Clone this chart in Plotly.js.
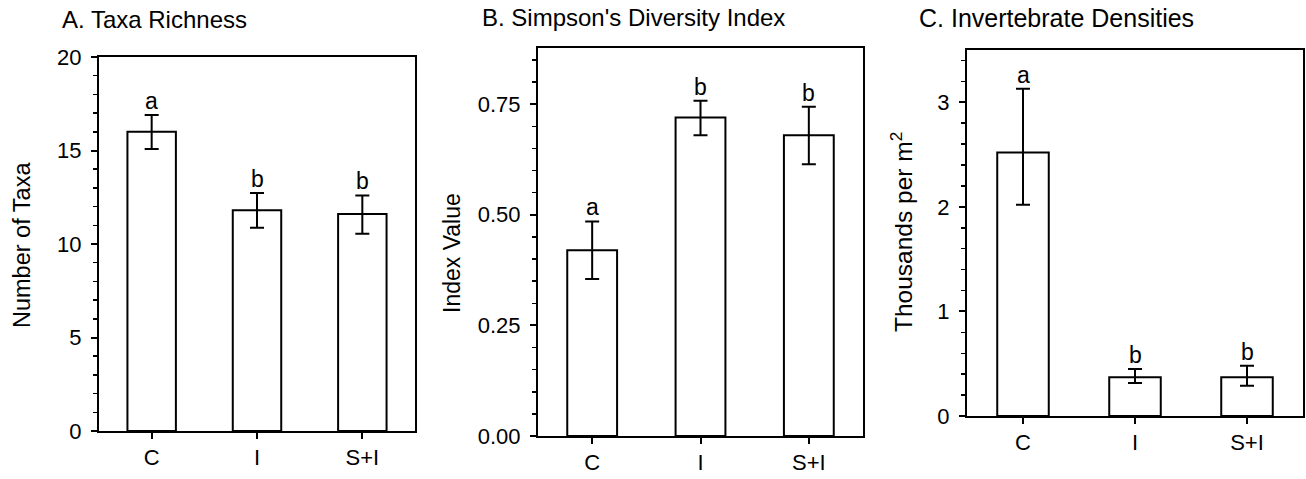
<!DOCTYPE html>
<html>
<head>
<meta charset="utf-8">
<script src="https://cdn.plot.ly/plotly-3.0.1.min.js"></script>
<style>html,body{margin:0;padding:0;background:#fff;}#chart{width:1306px;height:479px;}</style>
</head>
<body>
<div id="chart"></div>
<script>
// ---- data ----
const categories = ['C', 'I', 'S+I'];

const taxaRichness = [16.0, 11.8, 11.6];
const taxaErrPlus = [0.9, 0.93, 1.0];
const taxaErrMinus = [0.92, 0.93, 1.05];
const taxaLetters = ['a', 'b', 'b'];

const simpsonIndex = [0.42, 0.72, 0.68];
const simpsonErrPlus = [0.065, 0.038, 0.064];
const simpsonErrMinus = [0.065, 0.04, 0.066];
const simpsonLetters = ['a', 'b', 'b'];

const densities = [2.52, 0.37, 0.37];
const densErrPlus = [0.61, 0.08, 0.11];
const densErrMinus = [0.50, 0.055, 0.08];
const densLetters = ['a', 'b', 'b'];

const panelTitles = ['A. Taxa Richness', "B. Simpson's Diversity Index", 'C. Invertebrate Densities'];
const yTitles = ['Number of Taxa', 'Index Value', 'Thousands per m<sup>2</sup>'];

// ---- build ----
const FONT = 'Liberation Sans, Arial, Helvetica, sans-serif';
const W = 1306, H = 479;

function barTrace(vals, plus, minus, xa, ya) {
  return {
    type: 'bar', x: categories, y: vals, xaxis: xa, yaxis: ya,
    width: 0.46,
    marker: {color: '#ffffff', line: {color: '#000', width: 2}},
    error_y: {type: 'data', array: plus, arrayminus: minus, symmetric: false,
              color: '#000', thickness: 2, width: 7},
    hoverinfo: 'skip', showlegend: false
  };
}

const data = [
  barTrace(taxaRichness, taxaErrPlus, taxaErrMinus, 'x', 'y'),
  barTrace(simpsonIndex, simpsonErrPlus, simpsonErrMinus, 'x2', 'y2'),
  barTrace(densities, densErrPlus, densErrMinus, 'x3', 'y3')
];

function px2x(p) { return p / W; }
function px2y(p) { return (H - p) / H; }

function xAxis(domain, anchor) {
  return {
    domain: domain, anchor: anchor, type: 'category', range: [-0.5, 2.5],
    showline: true, mirror: true, linewidth: 2, linecolor: '#000',
    ticks: 'outside', ticklen: 6, tickwidth: 2, tickcolor: '#000',
    tickfont: {family: FONT, size: 22, color: '#000'},
    showgrid: false, zeroline: false, fixedrange: true
  };
}
function yAxis(domain, anchor, range, dtick, minorDtick, fmt) {
  return {
    domain: domain, anchor: anchor, range: range, dtick: dtick, tick0: 0,
    tickformat: fmt,
    showline: true, mirror: true, linewidth: 2, linecolor: '#000',
    ticks: 'outside', ticklen: 6, tickwidth: 2, tickcolor: '#000',
    minor: {dtick: minorDtick, tick0: 0, ticks: 'outside', ticklen: 4, tickwidth: 1.5, tickcolor: '#000', showgrid: false},
    tickfont: {family: FONT, size: 22, color: '#000'},
    ticklabelstandoff: 5,
    showgrid: false, zeroline: false, fixedrange: true
  };
}
function innerAxis(over, anchor, domain, range, dtick) {
  return {
    overlaying: over, anchor: anchor, domain: domain, range: range, dtick: dtick, tick0: 0,
    ticks: 'inside', ticklen: 6, tickwidth: 2, tickcolor: '#000',
    showticklabels: false, showline: false, showgrid: false, zeroline: false, fixedrange: true
  };
}

const xdA = [px2x(99), px2x(415)], ydA = [px2y(431), px2y(57)];
const xdB = [px2x(538), px2x(863)], ydB = [px2y(436), px2y(48)];
const xdC = [px2x(967), px2x(1303)], ydC = [px2y(416), px2y(50)];

const layout = {
  width: W, height: H,
  margin: {l: 0, r: 0, t: 0, b: 0},
  paper_bgcolor: '#fff', plot_bgcolor: '#fff',
  font: {family: FONT, color: '#000'},
  showlegend: false,
  bargap: 0,
  xaxis: xAxis(xdA, 'y'),
  yaxis: yAxis(ydA, 'x', [0, 20], 5, 1, 'd'),
  xaxis2: xAxis(xdB, 'y2'),
  yaxis2: yAxis(ydB, 'x2', [0, 0.877], 0.25, 0.05, '.2f'),
  xaxis3: xAxis(xdC, 'y3'),
  yaxis3: yAxis(ydC, 'x3', [0, 3.5], 1, 0.2, 'd'),
  yaxis4: innerAxis('y', 'x', ydA, [0, 20], 5),
  yaxis5: innerAxis('y2', 'x2', ydB, [0, 0.877], 0.25),
  yaxis6: innerAxis('y3', 'x3', ydC, [0, 3.5], 1),
  annotations: []
};

// panel titles
const titleX = [60, 480, 917];
const titleY = [19, 17, 18];
const titleSize = [24, 24, 25];
panelTitles.forEach((t, i) => {
  layout.annotations.push({
    text: t, xref: 'paper', yref: 'paper', x: px2x(titleX[i]), y: px2y(titleY[i]),
    xanchor: 'left', yanchor: 'middle', showarrow: false,
    font: {family: FONT, size: titleSize[i], color: '#000'}
  });
});

// y-axis titles
const yTitleX = [22, 452, 901];
const yTitleY = [245, 253, 232];
const yTitleSize = [23.5, 23, 24.5];
yTitles.forEach((t, i) => {
  layout.annotations.push({
    text: t, xref: 'paper', yref: 'paper', x: px2x(yTitleX[i]), y: px2y(yTitleY[i]),
    xanchor: 'center', yanchor: 'middle', textangle: -90, showarrow: false,
    font: {family: FONT, size: yTitleSize[i], color: '#000'}
  });
});

// significance letters
function addLetters(letters, vals, plus, xa, ya) {
  letters.forEach((l, i) => {
    layout.annotations.push({
      text: l, xref: xa, yref: ya, x: categories[i], y: vals[i] + plus[i],
      xanchor: 'center', yanchor: 'bottom', showarrow: false, yshift: -1,
      font: {family: FONT, size: 23, color: '#000'}
    });
  });
}
addLetters(taxaLetters, taxaRichness, taxaErrPlus, 'x', 'y');
addLetters(simpsonLetters, simpsonIndex, simpsonErrPlus, 'x2', 'y2');
addLetters(densLetters, densities, densErrPlus, 'x3', 'y3');

Plotly.newPlot('chart', data, layout, {staticPlot: true, displayModeBar: false});
</script>
</body>
</html>
